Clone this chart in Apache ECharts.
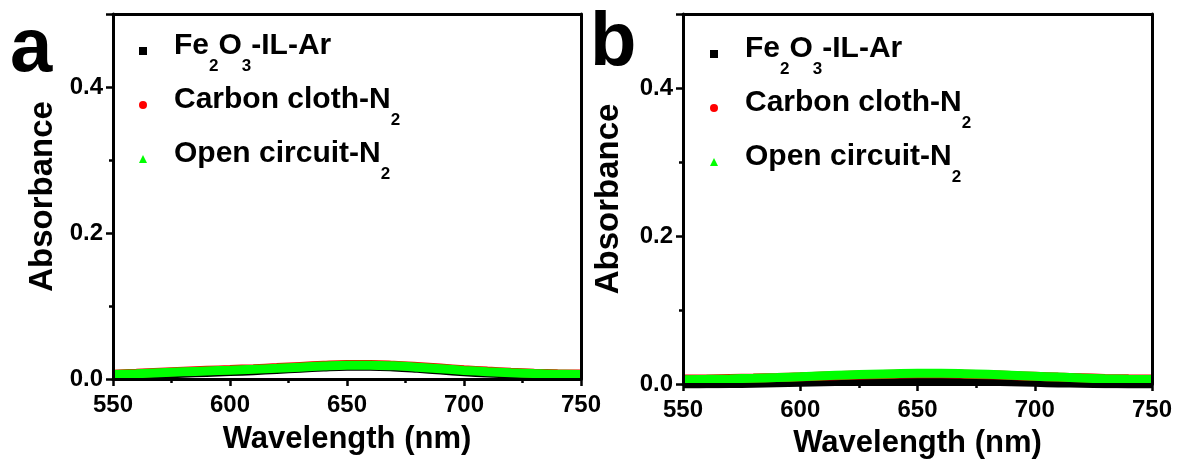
<!DOCTYPE html>
<html>
<head>
<meta charset="utf-8">
<script src="https://cdn.jsdelivr.net/npm/echarts@6/dist/echarts.min.js"></script>
<style>
  html, body { margin: 0; padding: 0; background: #fff; }
  #chart { width: 1193px; height: 464px; }
</style>
</head>
<body>
<div id="chart"></div>
<script>
// Wavelength grid (nm)
const wavelengths = [550, 560, 570, 580, 590, 600, 610, 620, 630, 640, 650,
                     660, 670, 680, 690, 700, 710, 720, 730, 740, 750];

// Panel a: absorbance spectra
const aFeIlAr =   [0.0048, 0.0056, 0.0066, 0.0078, 0.0090, 0.0101, 0.0114, 0.0130, 0.0148, 0.0163, 0.0174,
                   0.0176, 0.0166, 0.0146, 0.0122, 0.0100, 0.0082, 0.0068, 0.0058, 0.0052, 0.0049];
const aCarbonN2 = [0.0065, 0.0078, 0.0092, 0.0106, 0.0119, 0.0130, 0.0142, 0.0156, 0.0172, 0.0187, 0.0198,
                   0.0200, 0.0190, 0.0172, 0.0150, 0.0128, 0.0109, 0.0093, 0.0080, 0.0071, 0.0067];
const aOpenN2 =   [0.0060, 0.0072, 0.0085, 0.0098, 0.0110, 0.0120, 0.0132, 0.0146, 0.0162, 0.0177, 0.0188,
                   0.0190, 0.0180, 0.0162, 0.0140, 0.0118, 0.0100, 0.0085, 0.0074, 0.0066, 0.0062];

// Panel b: absorbance spectra
const bFeIlAr =   [0.0000, 0.0002, 0.0006, 0.0011, 0.0017, 0.0024, 0.0031, 0.0037, 0.0042, 0.0045, 0.0046,
                   0.0045, 0.0042, 0.0037, 0.0030, 0.0022, 0.0015, 0.0009, 0.0004, 0.0001, 0.0000];
const bCarbonN2 = [0.0066, 0.0069, 0.0074, 0.0080, 0.0088, 0.0097, 0.0107, 0.0117, 0.0126, 0.0133, 0.0137,
                   0.0137, 0.0133, 0.0125, 0.0115, 0.0104, 0.0093, 0.0084, 0.0076, 0.0070, 0.0067];
const bOpenN2 =   [0.0058, 0.0063, 0.0069, 0.0077, 0.0087, 0.0099, 0.0111, 0.0122, 0.0132, 0.0140, 0.0145,
                   0.0145, 0.0140, 0.0131, 0.0119, 0.0106, 0.0093, 0.0080, 0.0070, 0.0063, 0.0060];

const seriesNames = ['Fe2O3-IL-Ar', 'Carbon cloth-N2', 'Open circuit-N2'];
const seriesColors = ['#000000', '#ff0000', '#00ff00'];
const legendIcons = ['rect', 'circle', 'triangle'];
// Legend labels as rich text with subscripts
const legendRich = {
  'Fe2O3-IL-Ar': '{g|}{n|Fe}{s|2}{n|O}{s|3}{n|-IL-Ar}',
  'Carbon cloth-N2': '{g|}{n|Carbon cloth-N}{s|2}',
  'Open circuit-N2': '{g|}{n|Open circuit-N}{s|2}'
};

const FONT = 'Liberation Sans, Arial, Helvetica, sans-serif';
const panelData = [
  [aFeIlAr, aCarbonN2, aOpenN2],
  [bFeIlAr, bCarbonN2, bOpenN2]
];

const grids = [
  { left: 113, top: 14, width: 468, height: 365 },
  { left: 683, top: 14, width: 469, height: 372 }
];

const xAxes = [], yAxes = [], series = [], legends = [];
const yNameGaps = [54, 58];
const xNameGaps = [45, 44];
const xLabelMargins = [14, 14];
const legendLeft = [134, 705];
const legendTop = [26, 29];

grids.forEach((g, gi) => {
  // bottom wavelength axis
  xAxes.push({
    type: 'value', gridIndex: gi, position: 'bottom', min: 550, max: 750, interval: 50,
    name: 'Wavelength (nm)', nameLocation: 'middle', nameGap: xNameGaps[gi],
    nameTextStyle: { fontFamily: FONT, fontWeight: 'bold', fontSize: 31, color: '#000' },
    axisLine: { show: true, onZero: false, lineStyle: { color: '#000', width: 3 } },
    axisTick: { show: true, length: 7, lineStyle: { color: '#000', width: 2.5 } },
    minorTick: { show: true, splitNumber: 2, length: 4, lineStyle: { color: '#000', width: 2.5 } },
    axisLabel: { fontFamily: FONT, fontWeight: 'bold', fontSize: 24, color: '#000', margin: xLabelMargins[gi] },
    splitLine: { show: false }, z: 5
  });
  // top frame
  xAxes.push({
    type: 'value', gridIndex: gi, position: 'top', min: 550, max: 750,
    axisLine: { show: true, onZero: false, lineStyle: { color: '#000', width: 3 } },
    axisTick: { show: false }, axisLabel: { show: false }, splitLine: { show: false }, z: 5
  });
  // left absorbance axis (0.1 steps: short ticks, labels every 0.2)
  yAxes.push({
    type: 'value', gridIndex: gi, position: 'left', min: 0, max: 0.5, interval: 0.1,
    name: 'Absorbance', nameLocation: 'middle', nameGap: yNameGaps[gi],
    nameTextStyle: { fontFamily: FONT, fontWeight: 'bold', fontSize: 33, color: '#000' },
    axisLine: { show: true, onZero: false, lineStyle: { color: '#000', width: 3 } },
    axisTick: { show: true, length: 4, lineStyle: { color: '#000', width: 2.5 } },
    axisLabel: {
      fontFamily: FONT, fontWeight: 'bold', fontSize: 24, color: '#000', margin: 10,
      formatter: v => {
        const k = Math.round(v * 10);
        return (k % 2 === 0 && k <= 4) ? v.toFixed(1) : '';
      }
    },
    splitLine: { show: false }, z: 5
  });
  // left major ticks at 0.2 steps
  yAxes.push({
    type: 'value', gridIndex: gi, position: 'left', min: 0, max: 0.5, interval: 0.2,
    axisLine: { show: false },
    axisTick: { show: true, length: 7, lineStyle: { color: '#000', width: 2.5 } },
    axisLabel: { show: false }, splitLine: { show: false }, z: 5
  });
  // right frame
  yAxes.push({
    type: 'value', gridIndex: gi, position: 'right', min: 0, max: 0.5,
    axisLine: { show: true, onZero: false, lineStyle: { color: '#000', width: 3 } },
    axisTick: { show: false }, axisLabel: { show: false }, splitLine: { show: false }, z: 5
  });

  panelData[gi].forEach((vals, si) => {
    series.push({
      name: seriesNames[si], type: 'line', xAxisIndex: gi * 2, yAxisIndex: gi * 3,
      data: wavelengths.map((w, i) => [w, vals[i]]),
      smooth: 0.4, showSymbol: false, symbol: 'none', clip: true,
      lineStyle: { color: seriesColors[si], width: 9 },
      itemStyle: { color: seriesColors[si] },
      z: 2 + si
    });
  });

  legends.push({
    orient: 'vertical', left: legendLeft[gi], top: legendTop[gi],
    itemGap: 10, itemWidth: 8, itemHeight: 8, selectedMode: false,
    data: seriesNames.map((n, i) => ({ name: n, icon: legendIcons[i] })),
    formatter: name => legendRich[name],
    textStyle: {
      fontFamily: FONT, fontWeight: 'bold', fontSize: 30, color: '#000',
      padding: [0, 0, 10, 0],
      rich: {
        g: { width: 22, fontSize: 30, fontFamily: FONT },
        n: { fontFamily: FONT, fontWeight: 'bold', fontSize: 30, color: '#000' },
        s: { fontFamily: FONT, fontWeight: 'bold', fontSize: 17, color: '#000',
             verticalAlign: 'bottom', lineHeight: 17, padding: [0, 0, -14, 0] }
      }
    }
  });
});

const chart = echarts.init(document.getElementById('chart'), null, { renderer: 'canvas' });
chart.setOption({
  animation: false,
  backgroundColor: '#fff',
  grid: grids,
  xAxis: xAxes,
  yAxis: yAxes,
  legend: legends,
  series: series,
  graphic: [
    { type: 'text', left: 10, top: 12, style: { text: 'a', fontFamily: FONT, fontWeight: 'bold', fontSize: 76, fill: '#000' } },
    { type: 'text', left: 590, top: 6, style: { text: 'b', fontFamily: FONT, fontWeight: 'bold', fontSize: 76, fill: '#000' } }
  ]
});
</script>
</body>
</html>
